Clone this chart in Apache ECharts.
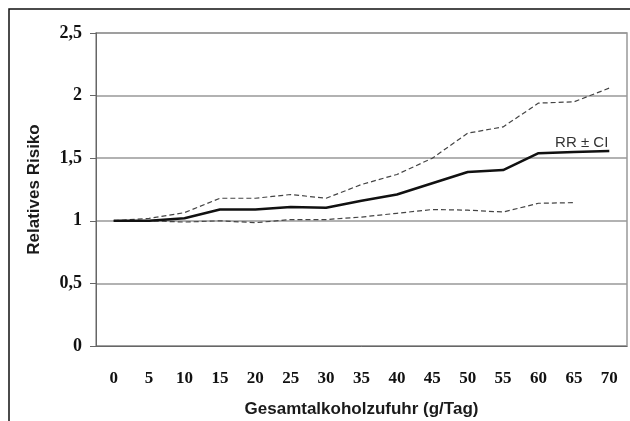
<!DOCTYPE html>
<html>
<head>
<meta charset="utf-8">
<script src="https://cdn.jsdelivr.net/npm/echarts@6/dist/echarts.min.js"></script>
<style>
  html, body { margin: 0; padding: 0; background: #fff; }
  #main { width: 630px; height: 421px; }
</style>
</head>
<body>
<div id="main"></div>
<script>
const chart = echarts.init(document.querySelector('#main'))

const CATEGORIES = ['0', '5', '10', '15', '20', '25', '30', '35', '40', '45', '50', '55', '60', '65', '70']
const RR = [1.0, 1.0, 1.02, 1.09, 1.09, 1.11, 1.105, 1.16, 1.21, 1.30, 1.39, 1.405, 1.54, 1.55, 1.557]
const CI_UPPER = [1.0, 1.02, 1.065, 1.18, 1.18, 1.21, 1.18, 1.29, 1.37, 1.50, 1.70, 1.75, 1.94, 1.95, 2.06]
const CI_LOWER = [1.0, 1.0, 0.99, 1.0, 0.985, 1.01, 1.01, 1.03, 1.06, 1.09, 1.085, 1.07, 1.14, 1.145, null]

const SERIF = 'Liberation Serif'
const SANS = 'Liberation Sans'

function dashed (name, data) {
  return {
    name: name,
    type: 'line',
    data: data,
    symbol: 'none',
    silent: true,
    lineStyle: { color: '#444', width: 1.2, type: [5, 3] }
  }
}

chart.setOption({
  animation: false,
  graphic: [{
    type: 'rect',
    shape: { x: 9, y: 9, width: 700, height: 500 },
    style: { fill: 'none', stroke: '#111', lineWidth: 1.5 }
  }],
  grid: {
    left: 96, right: 3, top: 33, bottom: 75,
    outerBoundsMode: 'none',
    show: true, borderColor: '#999', borderWidth: 1.5
  },
  xAxis: {
    type: 'category',
    data: CATEGORIES,
    name: 'Gesamtalkoholzufuhr (g/Tag)',
    nameLocation: 'middle',
    nameGap: 55,
    nameTextStyle: { fontFamily: SANS, fontWeight: 'bold', fontSize: 17, color: '#1a1a1a' },
    axisLine: { lineStyle: { color: '#666', width: 1 } },
    axisTick: { length: 5, lineStyle: { color: '#666' } },
    axisLabel: { margin: 24, fontFamily: SERIF, fontWeight: 'bold', fontSize: 17, color: '#111' }
  },
  yAxis: {
    type: 'value',
    min: 0, max: 2.5, interval: 0.5,
    name: 'Relatives Risiko',
    nameLocation: 'middle',
    nameGap: 53,
    nameTextStyle: { fontFamily: SANS, fontWeight: 'bold', fontSize: 17, color: '#1a1a1a' },
    axisLine: { show: true, lineStyle: { color: '#666', width: 1 } },
    axisTick: { show: true, length: 6, lineStyle: { color: '#666' } },
    splitLine: { lineStyle: { color: '#999', width: 1.5 } },
    axisLabel: {
      margin: 14, fontFamily: SERIF, fontWeight: 'bold', fontSize: 18, color: '#111',
      formatter: v => String(v).replace('.', ',')
    }
  },
  series: [
    dashed('CI oben', CI_UPPER),
    dashed('CI unten', CI_LOWER),
    {
      name: 'RR',
      type: 'line',
      data: RR,
      symbol: 'none',
      lineStyle: { color: '#111', width: 2.5 },
      endLabel: {
        show: true,
        formatter: 'RR ± CI',
        align: 'right',
        offset: [-9, -8],
        fontFamily: SANS,
        fontSize: 15,
        color: '#333'
      }
    }
  ]
})
</script>
</body>
</html>
